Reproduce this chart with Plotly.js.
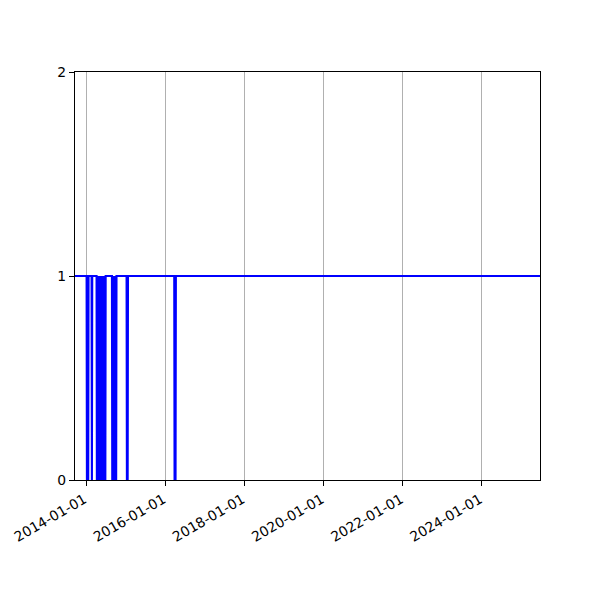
<!DOCTYPE html>
<html>
<head>
<meta charset="utf-8">
<script src="https://cdn.plot.ly/plotly-3.0.1.min.js"></script>
<style>html,body{margin:0;padding:0;background:#fff;}#chart{width:600px;height:600px;}</style>
</head>
<body>
<div id="chart"></div>
<script>
// Dates and status values (1 = up, 0 = down)
const dates = [
  "2013-09-01",
  "2014-01-04","2014-01-07","2014-01-10","2014-01-13","2014-01-16","2014-01-19","2014-01-22",
  "2014-02-19","2014-02-22","2014-02-25",
  "2014-04-06","2014-04-09","2014-04-12","2014-04-15","2014-04-18","2014-04-21","2014-04-24",
  "2014-04-27","2014-04-30","2014-05-03","2014-05-06","2014-05-09","2014-05-12","2014-05-15",
  "2014-05-18","2014-05-21","2014-05-24","2014-05-27","2014-05-30","2014-06-02","2014-06-05",
  "2014-06-08","2014-06-11","2014-06-14","2014-06-17","2014-06-20","2014-06-23","2014-06-26",
  "2014-06-29",
  "2014-08-26","2014-08-29","2014-09-01","2014-09-04","2014-09-07","2014-09-10","2014-09-13",
  "2014-09-16","2014-09-19","2014-09-22","2014-09-25","2014-09-28","2014-10-01","2014-10-04",
  "2014-10-07",
  "2015-01-08","2015-01-11","2015-01-15","2015-01-18","2015-01-21",
  "2016-03-23","2016-03-26","2016-03-31","2016-04-04","2016-04-07",
  "2025-12-31"
];
const values = [
  1,
  1,0,1,0,1,0,1,
  1,0,1,
  1,0,1,0,1,0,1,
  0,1,0,1,0,1,0,
  1,0,1,0,1,0,1,
  0,1,0,1,0,1,0,
  1,
  1,0,1,0,1,0,1,
  0,1,0,1,0,1,0,
  1,
  1,0,1,0,1,
  1,0,1,0,1,
  1
];
const xRange = ["2013-09-19", "2025-06-20"];
const yTicks = [0, 1, 2];

const font = {family: "DejaVu Sans, sans-serif", size: 13.9, color: "#000"};

Plotly.newPlot("chart", [{
  x: dates,
  y: values,
  type: "scatter",
  mode: "lines",
  line: {color: "#0000ff", width: 2.1, simplify: false},
  hoverinfo: "skip"
}], {
  width: 600,
  height: 600,
  margin: {l: 75, r: 60, t: 72, b: 120},
  paper_bgcolor: "#fff",
  plot_bgcolor: "#fff",
  showlegend: false,
  font: font,
  xaxis: {
    type: "date",
    range: xRange,
    tick0: "2014-01-01",
    dtick: "M24",
    tickformat: "%Y-%m-%d",
    tickangle: -30,
    ticks: "outside",
    ticklen: 5,
    tickwidth: 1,
    tickcolor: "#000",
    ticklabelstandoff: 0,
    ticklabelshift: -2,
    showgrid: true,
    gridcolor: "#b0b0b0",
    gridwidth: 1,
    showline: true,
    mirror: true,
    linecolor: "#000",
    linewidth: 1.1,
    zeroline: false,
    tickfont: font
  },
  yaxis: {
    range: [0, 2],
    tickvals: yTicks,
    ticktext: yTicks.map(String),
    ticks: "outside",
    ticklen: 5,
    tickwidth: 1,
    tickcolor: "#000",
    showgrid: false,
    showline: true,
    mirror: true,
    linecolor: "#000",
    linewidth: 1.1,
    zeroline: false,
    tickfont: font
  }
}, {displayModeBar: false, staticPlot: true});
</script>
</body>
</html>
